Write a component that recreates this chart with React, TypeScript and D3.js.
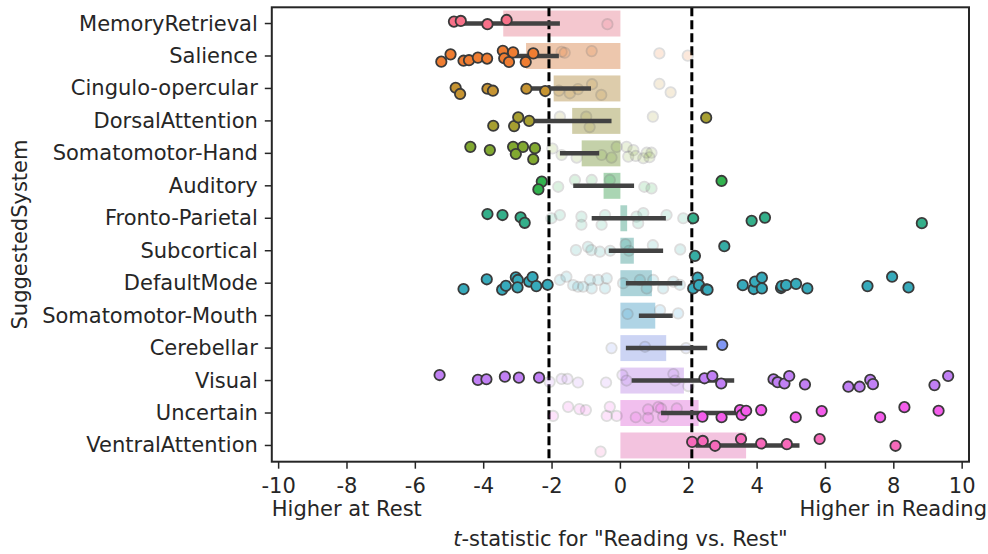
import * as d3 from "d3";

const systems = [
  "MemoryRetrieval", "Salience", "Cingulo-opercular", "DorsalAttention",
  "Somatomotor-Hand", "Auditory", "Fronto-Parietal", "Subcortical",
  "DefaultMode", "Somatomotor-Mouth", "Cerebellar", "Visual",
  "Uncertain", "VentralAttention",
];

// each subject: [t-statistic, strip jitter as a fraction of the row]
const memoryRetrieval = [[-4.87, -0.06], [-4.67, -0.08], [-3.89, 0.02], [-3.33, -0.11], [-0.38, 0.02]];
const salience = [[-5.24, 0.175], [-4.97, -0.05], [-4.59, 0.145], [-4.43, 0.13], [-4.17, 0.05], [-3.9, 0.08], [-3.44, -0.16], [-3.4, 0.07], [-3.26, 0.185], [-3.14, -0.11], [-2.77, 0.185], [-2.55, -0.08], [-1.72, -0.13], [-1.63, -0.1], [-0.84, -0.15], [1.14, -0.08], [1.97, -0.01]];
const cinguloOpercular = [[-4.82, -0.02], [-4.69, 0.17], [-3.89, 0.01], [-3.73, 0.07], [-2.75, 0.01], [-2.2, 0.08], [-1.8, 0.07], [-1.48, 0.15], [-1.24, 0.02], [-0.83, -0.13], [-0.56, 0.2], [1.14, -0.14], [1.47, 0.12]];
const dorsalAttention = [[-3.72, 0.15], [-3.11, 0.16], [-2.99, -0.11], [-2.67, 0], [-1.77, -0.13], [-1.0, -0.13], [-0.9, 0.19], [0.95, -0.13], [2.51, -0.1]];
const somatomotorHand = [[-4.39, -0.2], [-3.82, -0.1], [-3.14, -0.2], [-2.85, -0.2], [-3.06, 0.02], [-2.5, -0.16], [-2.55, 0.18], [-1.99, -0.15], [-1.72, 0.05], [-1.28, 0.13], [-0.55, 0.05], [-0.26, 0.13], [-0.11, -0.2], [0.18, -0.2], [0.38, -0.1], [0.23, 0.1], [0.67, 0.15], [0.77, -0.02], [0.91, -0.02], [0.45, 0.08], [0.85, 0.12]];
const auditory = [[-2.3, -0.13], [-2.4, 0.11], [2.96, -0.15], [-1.82, 0.03], [-1.33, -0.18], [-0.84, -0.18], [-0.31, -0.18], [0.7, 0.03], [0.91, 0.08]];
const frontoParietal = [[-3.89, -0.13], [-3.45, -0.1], [-2.92, -0.03], [-2.8, 0.14], [2.13, 0], [3.84, 0.08], [4.23, -0.02], [8.82, 0.15], [-2.02, 0], [-1.77, -0.1], [-1.14, -0.05], [-1.14, 0.2], [-0.55, 0.2], [-0.45, -0.1], [0.47, -0.05], [0.52, 0.15], [0.67, -0.16], [1.35, -0.1], [1.84, 0]];
const subcortical = [[2.18, 0.16], [3.04, -0.14], [-1.3, -0.02], [-0.95, -0.12], [-0.85, -0.02], [-0.6, 0.03], [-0.3, 0], [0.15, -0.2], [0.25, 0], [0.95, -0.17], [1.75, -0.04]];
const defaultMode = [
  [-4.59, 0.18], [-3.91, -0.12], [-3.46, 0.2], [-3.35, 0.08], [-3.06, -0.18], [-3.0, -0.1], [-3.01, 0.13], [-2.67, -0.05], [-2.57, -0.19], [-2.46, 0.09], [-2.13, 0.05],
  [2.13, 0.16], [2.26, -0.17], [2.3, 0.06], [2.51, 0.19], [2.55, 0.2], [3.58, 0.06], [3.9, 0.18], [3.94, -0.05], [4.14, -0.17], [4.14, 0.16], [4.7, 0.15], [4.72, 0.09], [4.85, 0.06], [5.14, 0.02], [5.47, 0.16], [7.23, 0.09], [7.95, -0.2], [8.43, 0.13],
  [-1.77, -0.1], [-1.58, -0.2], [-1.38, 0.06], [-1.24, 0.11], [-1.09, 0.11], [-0.89, -0.1], [-0.84, 0.16], [-0.65, -0.1], [-0.45, 0.16], [-0.4, -0.15], [0.08, 0], [0.57, -0.1], [0.77, 0.16], [0.96, -0.1], [1.25, 0.16], [1.55, -0.05], [1.74, 0.05],
];
const somatomotorMouth = [[0.21, -0.05], [1.16, -0.17], [1.69, -0.07]];
const cerebellar = [[2.98, -0.1], [-0.26, 0], [0.72, -0.04], [1.92, 0]];
const visual = [
  [-5.29, -0.17], [-4.17, -0.02], [-3.92, -0.04], [-3.38, -0.12], [-2.97, -0.09], [-2.38, -0.09],
  [2.46, -0.07], [2.69, -0.14], [2.95, 0.09], [4.48, -0.04], [4.6, 0.05], [4.8, 0.09], [4.94, -0.14], [5.4, 0.12], [6.67, 0.19], [7.0, 0.19], [7.31, -0.02], [7.39, 0.11], [9.19, 0.14], [9.59, -0.14],
  [-2.07, 0.04], [-1.72, -0.05], [-1.55, -0.05], [-1.24, 0.06], [-0.42, 0.06], [0.06, -0.17], [0.18, 0], [1.55, -0.2], [1.6, 0], [1.99, 0.17],
];
const uncertain = [
  [2.4, 0.11], [2.96, 0.13], [3.5, -0.09], [3.55, 0.06], [3.68, -0.07], [4.12, -0.09], [5.13, 0.13], [5.89, -0.06], [7.6, 0.13], [8.31, -0.18], [9.31, -0.07],
  [-1.97, 0.09], [-1.53, -0.19], [-1.2, -0.12], [-1.01, -0.09], [-0.4, 0.09], [-0.31, -0.19], [-0.11, 0.09], [0.45, 0.13], [0.81, -0.11], [0.81, 0.15], [1.11, -0.18], [1.19, -0.14], [1.25, 0.11], [1.65, -0.14],
];
const ventralAttention = [[2.1, -0.11], [2.41, -0.14], [2.77, 0.01], [3.53, -0.2], [4.12, -0.06], [4.87, -0.04], [5.83, -0.2], [8.05, 0.01], [-0.58, 0.19]];

const subjects = [
  memoryRetrieval, salience, cinguloOpercular, dorsalAttention, somatomotorHand,
  auditory, frontoParietal, subcortical, defaultMode, somatomotorMouth,
  cerebellar, visual, uncertain, ventralAttention,
];

// 95% CI of the mean
const ciLow = [-4.65, -3.5, -2.8, -2.8, -1.77, -1.38, -0.84, -0.34, 0.16, 0.54, 0.16, 0.33, 1.19, 2.2];
const ciHigh = [-1.77, -1.8, -0.86, -0.26, -0.62, 0.4, 1.33, 1.25, 1.81, 1.53, 2.54, 3.33, 3.65, 5.24];

const xTicks = [-10, -8, -6, -4, -2, 0, 2, 4, 6, 8, 10];
const tCrit = 2.09;

// seaborn husl palette (hsluv conversion)
const M = [
  [3.240969941904521, -1.537383177570093, -0.498610760293],
  [-0.96924363628087, 1.87596750150772, 0.041555057407175],
  [0.055630079696993, -0.20397695888897, 1.056971514242878],
];
function maxChroma(L, H) {
  const sub1 = Math.pow(L + 16, 3) / 1560896;
  const sub2 = sub1 > 0.0088564516 ? sub1 : L / 903.2962962;
  const hrad = (H / 360) * 2 * Math.PI;
  let min = Infinity;
  for (const [m1, m2, m3] of M) {
    for (const t of [0, 1]) {
      const top1 = (284517 * m1 - 94839 * m3) * sub2;
      const top2 = (838422 * m3 + 769860 * m2 + 731718 * m1) * L * sub2 - 769860 * t * L;
      const bottom = (632260 * m3 - 126452 * m2) * sub2 + 126452 * t;
      const len = top2 / bottom / (Math.sin(hrad) - (top1 / bottom) * Math.cos(hrad));
      if (len >= 0) min = Math.min(min, len);
    }
  }
  return min;
}
function husl(H, S, L) {
  const C = (maxChroma(L, H) / 100) * S;
  const hrad = (H / 180) * Math.PI;
  const U = Math.cos(hrad) * C, V = Math.sin(hrad) * C;
  const Y = L > 8 ? Math.pow((L + 16) / 116, 3) : L / 903.2962962;
  const vu = U / (13 * L) + 0.19783000664283;
  const vv = V / (13 * L) + 0.46831999493879;
  const X = (9 * Y * vu) / (4 * vv);
  const Z = (9 * Y - 15 * vv * Y - vv * X) / (3 * vv);
  const rgb = M.map(([a, b, c]) => {
    const v = a * X + b * Y + c * Z;
    const s = v <= 0.0031308 ? 12.92 * v : 1.055 * Math.pow(v, 1 / 2.4) - 0.055;
    return Math.round(Math.max(0, Math.min(1, s)) * 255);
  });
  return d3.rgb(rgb[0], rgb[1], rgb[2]).formatHex();
}
const palette = systems.map((_, i) => husl(((i / systems.length + 0.01) % 1) * 359, 89.1, 64.35));
const barColor = palette.map((c) => {
  const h = d3.hsl(c);
  h.s *= 0.75;
  return h.formatHex();
});

const font = "DejaVu Sans";
const ink = "#262626";

export default function App() {
  const width = 988, height = 554;
  const margin = { top: 7.3, right: 19, bottom: 92.3, left: 271.8 };

  const x = d3.scaleLinear().domain([-10.2, 10.2]).range([margin.left, width - margin.right]);
  const y = d3.scaleBand().domain(systems).range([margin.top, height - margin.bottom]);
  const bw = y.bandwidth();
  const cy = (s) => y(s) + bw / 2;
  const means = subjects.map((pts) => d3.mean(pts, (d) => d[0]));

  const plotTop = margin.top, plotBottom = height - margin.bottom;

  return (
    <svg width={width} height={height} style={{ position: "absolute", left: 0, top: 0 }} fontFamily={font}>
      <rect x={0} y={0} width={width} height={height} fill="#fff" />

      {/* mean bars */}
      {systems.map((s, i) => (
        <rect key={s} x={Math.min(x(0), x(means[i]))} y={y(s) + bw * 0.1}
          width={Math.abs(x(means[i]) - x(0))} height={bw * 0.8}
          fill={barColor[i]} fillOpacity={0.45} />
      ))}

      {/* critical t lines */}
      {[-tCrit, tCrit].map((t) => (
        <line key={t} x1={x(t)} x2={x(t)} y1={plotTop} y2={plotBottom}
          stroke="#000" strokeWidth={3} strokeDasharray="9 4" />
      ))}

      {/* non-significant subjects */}
      {systems.map((s, i) => subjects[i].filter((d) => Math.abs(d[0]) <= tCrit).map((d, k) => (
        <circle key={s + "f" + k} cx={x(d[0])} cy={cy(s) + d[1] * bw} r={5.2}
          fill={palette[i]} stroke="#3a3a3a" strokeWidth={1.8} opacity={0.17} />
      )))}

      {/* CI */}
      {systems.map((s, i) => (
        <line key={s + "ci"} x1={x(ciLow[i])} x2={x(ciHigh[i])} y1={cy(s)} y2={cy(s)}
          stroke="#424242" strokeWidth={4.5} />
      ))}

      {/* significant subjects */}
      {systems.map((s, i) => subjects[i].filter((d) => Math.abs(d[0]) > tCrit).map((d, k) => (
        <circle key={s + "s" + k} cx={x(d[0])} cy={cy(s) + d[1] * bw} r={5.2}
          fill={palette[i]} stroke="#3a3a3a" strokeWidth={1.8} />
      )))}

      {/* frame */}
      <rect x={margin.left} y={plotTop} width={width - margin.right - margin.left}
        height={plotBottom - plotTop} fill="none" stroke={ink} strokeWidth={2} />

      {/* y axis */}
      {systems.map((s) => (
        <g key={s + "t"}>
          <line x1={margin.left - 7} x2={margin.left} y1={cy(s)} y2={cy(s)} stroke={ink} strokeWidth={1.5} />
          <text x={margin.left - 14} y={cy(s)} textAnchor="end" dominantBaseline="central"
            fontSize={21} fill={ink}>{s}</text>
        </g>
      ))}
      <text transform={`translate(20,${(plotTop + plotBottom) / 2}) rotate(-90)`} textAnchor="middle"
        dominantBaseline="central" fontSize={21} fill={ink}>SuggestedSystem</text>

      {/* x axis */}
      {xTicks.map((t) => (
        <g key={t}>
          <line x1={x(t)} x2={x(t)} y1={plotBottom} y2={plotBottom + 7} stroke={ink} strokeWidth={1.5} />
          <text x={x(t)} y={plotBottom + 31} textAnchor="middle" fontSize={21} fill={ink}>{String(t)}</text>
        </g>
      ))}
      <text x={margin.left} y={516} fontSize={21} fill={ink}>Higher at Rest</text>
      <text x={987} y={516} textAnchor="end" fontSize={21} fill={ink}>Higher in Reading</text>
      <text x={x(0)} y={546} textAnchor="middle" fontSize={21} fill={ink}>
        <tspan fontStyle="italic">t</tspan>-statistic for "Reading vs. Rest"
      </text>
    </svg>
  );
}
